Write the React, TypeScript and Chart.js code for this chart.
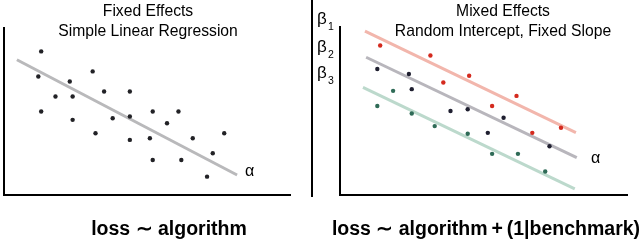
import React, { useEffect, useRef } from "react";
import { Chart, registerables } from "chart.js";

Chart.register(...registerables);

// ---------- Left panel: Fixed effects (simple linear regression) ----------
const fixedX = [13, 12, 13, 18, 23, 24, 24, 31, 32, 35, 38, 44, 44, 44, 51, 52, 52, 57, 61, 62, 66, 71, 73, 77];
const fixedY = [86, 71, 50, 59, 68, 59, 45, 74, 37, 62, 46, 62, 47, 33, 34, 50, 21, 43, 50, 21, 34, 11, 25, 37];
const fixedLineX = [4.5, 81.5];
const fixedLineY = [81, 12];

// ---------- Right panel: Mixed effects (random intercept, fixed slope) ----------
const redX = [14, 31.5, 36, 45, 53, 61.5, 67, 77];
const redY = [89, 83, 67, 71, 53, 59, 37, 40];
const darkX = [13, 24, 25, 38.5, 44.5, 51.5, 57, 73];
const darkY = [75, 72, 63, 50, 51, 37, 46, 29];
const greenX = [13, 18.5, 25, 33, 44.5, 53, 62, 71.5];
const greenY = [53, 62, 48.5, 41, 36.5, 24.5, 24.5, 14];

const redLineX = [8.7, 82.2];
const redLineY = [97.6, 37.1];
const grayLineX = [9.1, 82.5];
const grayLineY = [82, 22.2];
const greenLineX = [8, 81.8];
const greenLineY = [64.1, 3.6];

const leftTitle = ["Fixed Effects", "Simple Linear Regression"];
const rightTitle = ["Mixed Effects", "Random Intercept, Fixed Slope"];
const leftFormula = "loss \u223C algorithm";
const rightFormula = "loss \u223C algorithm\u2009+\u2009(1|benchmark)";
const betaLabels = ["1", "2", "3"];

const zip = (xs: number[], ys: number[]) => xs.map((x, i) => ({ x, y: ys[i] }));

type TextItem = {
  text: string;
  x: number;
  y: number;
  font: string;
  align?: CanvasTextAlign;
  color?: string;
};

const SANS = '"Liberation Sans", Arial, sans-serif';

function pointsDs(xs: number[], ys: number[], color: string) {
  return {
    type: "scatter" as const,
    data: zip(xs, ys),
    showLine: false,
    pointRadius: 2.2,
    pointHoverRadius: 2.2,
    pointBackgroundColor: color,
    pointBorderColor: color,
    pointBorderWidth: 0,
    order: 0,
  };
}

function lineDs(xs: number[], ys: number[], color: string) {
  return {
    type: "scatter" as const,
    data: zip(xs, ys),
    showLine: true,
    borderColor: color,
    borderWidth: 3,
    pointRadius: 0,
    order: 1,
  };
}

type PanelProps = {
  left: number;
  width: number;
  padding: { left: number; right: number; top: number; bottom: number };
  datasets: any[];
  texts: TextItem[];
  divider?: boolean;
};

function Panel({ left, width, padding, datasets, texts, divider }: PanelProps) {
  const ref = useRef<HTMLCanvasElement | null>(null);
  useEffect(() => {
    if (!ref.current) return;
    const textPlugin = {
      id: "panelText",
      afterDraw(chart: Chart) {
        const ctx = chart.ctx;
        ctx.save();
        if (divider) {
          ctx.strokeStyle = "#000";
          ctx.lineWidth = 2;
          ctx.beginPath();
          ctx.moveTo(2, 0);
          ctx.lineTo(2, 197);
          ctx.stroke();
        }
        for (const t of texts) {
          ctx.font = t.font;
          ctx.fillStyle = t.color || "#000";
          ctx.textAlign = t.align || "left";
          ctx.textBaseline = "alphabetic";
          ctx.fillText(t.text, t.x, t.y);
        }
        ctx.restore();
      },
    };
    const axis = {
      type: "linear" as const,
      min: 0,
      max: 100,
      display: true,
      grid: { display: false, drawTicks: false },
      ticks: { display: false },
      border: { display: true, color: "#000", width: 2 },
    };
    const chart = new Chart(ref.current, {
      type: "scatter",
      data: { datasets },
      options: {
        responsive: false,
        animation: false,
        events: [],
        layout: { padding, autoPadding: false },
        plugins: { legend: { display: false }, tooltip: { enabled: false }, title: { display: false } },
        scales: { x: { ...axis }, y: { ...axis } },
      },
      plugins: [textPlugin],
    });
    return () => chart.destroy();
  }, []);
  return (
    <canvas
      ref={ref}
      width={width}
      height={245}
      style={{ position: "absolute", left, top: 0, width, height: 245 }}
    />
  );
}

export default function App() {
  const leftDatasets = [
    pointsDs(fixedX, fixedY, "#222226"),
    lineDs(fixedLineX, fixedLineY, "#b9b9bb"),
  ];
  const rightDatasets = [
    pointsDs(redX, redY, "#d42a1e"),
    pointsDs(darkX, darkY, "#1f1f30"),
    pointsDs(greenX, greenY, "#2f6b57"),
    lineDs(redLineX, redLineY, "#f2b6ac"),
    lineDs(grayLineX, grayLineY, "#b8b6bc"),
    lineDs(greenLineX, greenLineY, "#bcd9cc"),
  ];
  const titleFont = `15.7px ${SANS}`;
  const formulaFont = `bold 19.5px ${SANS}`;
  const leftTexts: TextItem[] = [
    { text: leftTitle[0], x: 148, y: 16, font: titleFont, align: "center" },
    { text: leftTitle[1], x: 148, y: 36, font: titleFont, align: "center" },
    { text: "\u03B1", x: 245, y: 176, font: `16px ${SANS}` },
    { text: leftFormula, x: 169, y: 235, font: formulaFont, align: "center" },
  ];
  const rl = 310;
  const rightTexts: TextItem[] = [
    { text: rightTitle[0], x: 503 - rl, y: 16, font: titleFont, align: "center" },
    { text: rightTitle[1], x: 503 - rl, y: 36, font: titleFont, align: "center" },
    { text: "\u03B1", x: 591 - rl, y: 163, font: `16px ${SANS}` },
    { text: rightFormula, x: 486 - rl, y: 235, font: formulaFont, align: "center" },
  ];
  const betaBase = [24, 52, 78];
  betaLabels.forEach((s, i) => {
    rightTexts.push({ text: "\u03B2", x: 317 - rl, y: betaBase[i], font: `17px ${SANS}` });
    rightTexts.push({ text: s, x: 328 - rl, y: betaBase[i] + 6, font: `10.5px ${SANS}` });
  });
  return (
    <div style={{ position: "absolute", left: 0, top: 0, width: 640, height: 245, background: "#fff" }}>
      <Panel
        left={0}
        width={310}
        padding={{ left: 4, right: 20, top: 28, bottom: 50 }}
        datasets={leftDatasets}
        texts={leftTexts}
      />
      <Panel
        left={rl}
        width={330}
        padding={{ left: 30, right: 13, top: 27, bottom: 50 }}
        datasets={rightDatasets}
        texts={rightTexts}
        divider
      />
    </div>
  );
}
